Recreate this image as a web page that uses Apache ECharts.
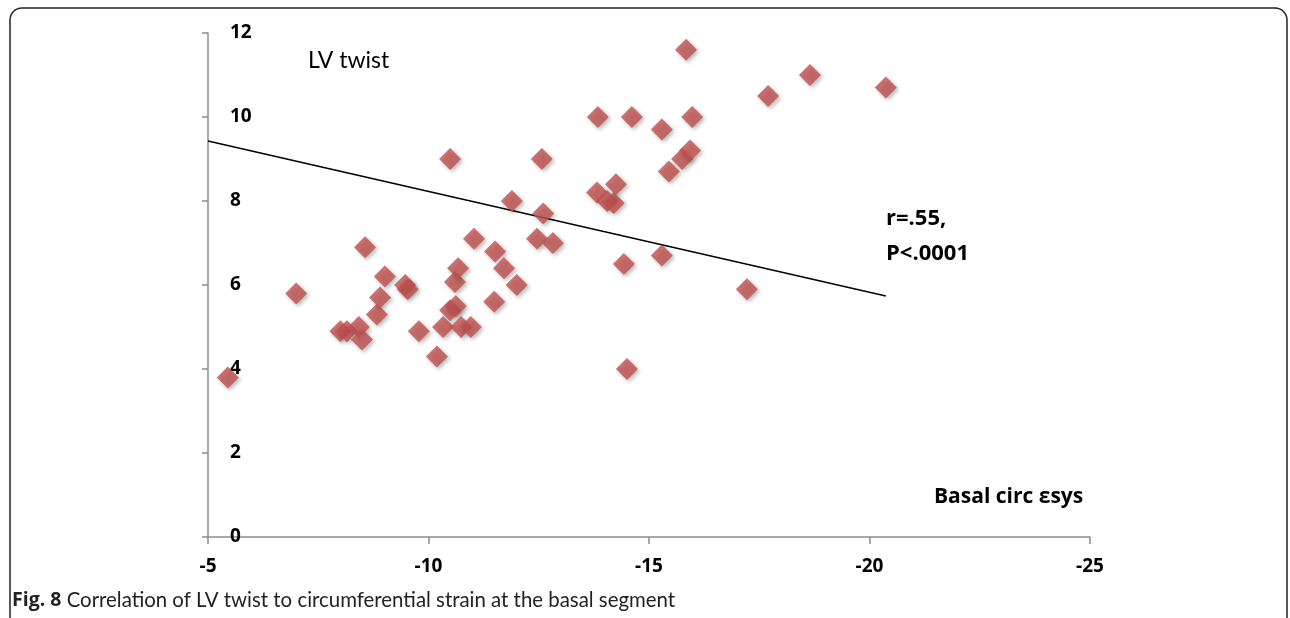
<!DOCTYPE html>
<html><head><meta charset="utf-8">
<script src="https://cdn.jsdelivr.net/npm/echarts@6/dist/echarts.min.js"></script>
<style>html,body{margin:0;padding:0;background:#fff}#c{width:1290px;height:618px}</style>
</head><body><div id="c"></div>
<script>
const xTicks = [-5, -10, -15, -20, -25];
const yTicks = [0, 2, 4, 6, 8, 10, 12];
const strainX = [-5.45, -7.0, -8.0, -8.15, -8.42, -8.49, -8.56, -8.83, -8.9, -9.01, -9.47, -9.53, -9.78, -10.19, -10.33, -10.49, -10.49, -10.6, -10.62, -10.67, -10.74, -10.96, -11.03, -11.49, -11.51, -11.71, -11.89, -12.0, -12.46, -12.57, -12.6, -12.82, -13.84, -13.82, -14.05, -14.2, -14.25, -14.43, -14.5, -14.61, -15.29, -15.29, -15.45, -15.75, -15.84, -15.93, -15.98, -17.22, -17.7, -18.65, -20.37];
const twistY  = [3.8, 5.8, 4.9, 4.9, 5.0, 4.7, 6.9, 5.3, 5.7, 6.2, 6.0, 5.9, 4.9, 4.3, 5.0, 9.0, 5.4, 6.07, 5.5, 6.4, 5.0, 5.0, 7.1, 5.6, 6.8, 6.4, 8.0, 6.0, 7.1, 9.0, 7.7, 7.0, 10.0, 8.2, 8.0, 7.95, 8.4, 6.5, 4.0, 10.0, 9.7, 6.7, 8.7, 9.0, 11.6, 9.2, 10.0, 5.9, 10.5, 11.0, 10.7];
const trendX = [-5, -20.37];
const trendY = [9.43, 5.74];
const yTitle = 'LV twist';
const xTitle = 'Basal circ εsys';
const stats = ['r=.55,', 'P<.0001'];

const pts = strainX.map((x, i) => [x, twistY[i]]);
const trend = trendX.map((x, i) => [x, trendY[i]]);
const reg = 'Lato, "Open Sans", sans-serif';
const bold = '"Open Sans", Lato, sans-serif';

const chart = echarts.init(document.getElementById('c'));
chart.setOption({
  animation: false,
  backgroundColor: '#fff',
  grid: { left: 208, right: 200, top: 33, bottom: 81 },
  xAxis: {
    type: 'value', inverse: true, min: -25, max: -5, interval: 5,
    axisLine: { show: true, lineStyle: { color: '#8c8c8c', width: 1.5 } },
    axisTick: { show: true, length: 7, lineStyle: { color: '#8c8c8c', width: 1.5 } },
    axisLabel: { color: '#000', fontWeight: 'bold', fontSize: 19, fontFamily: bold, margin: 20,
      formatter: v => xTicks.includes(v) ? String(v) : '' },
    splitLine: { show: false }
  },
  yAxis: {
    type: 'value', min: 0, max: 12, interval: 2,
    axisLine: { show: true, onZero: false, lineStyle: { color: '#8c8c8c', width: 1.5 } },
    axisTick: { show: true, length: 6, lineStyle: { color: '#8c8c8c', width: 1.5 } },
    axisLabel: { inside: true, color: '#000', fontWeight: 'bold', fontSize: 19, fontFamily: bold, margin: 22,
      formatter: v => yTicks.includes(v) ? String(v) : '' },
    splitLine: { show: false }
  },
  series: [
    {
      type: 'line', data: trend, showSymbol: false, symbol: 'none', z: 1,
      lineStyle: { color: '#000', width: 1.5 }
    },
    {
      type: 'scatter', data: pts, symbol: 'diamond', symbolSize: 22, z: 3,
      itemStyle: { color: '#c0504d', shadowBlur: 4, shadowOffsetX: 2, shadowOffsetY: 2, shadowColor: 'rgba(0,0,0,0.35)' }
    }
  ],
  graphic: [
    { type: 'rect', z: -1, shape: { x: 10, y: 8, width: 1277, height: 640, r: 12 },
      style: { fill: 'none', stroke: '#222', lineWidth: 1.5 } },
    { type: 'text', x: 308, y: 61, style: { text: yTitle, font: '23px ' + reg, fill: '#000', verticalAlign: 'middle' } },
    { type: 'text', x: 886, y: 219, style: { text: stats[0], font: 'bold 22px ' + bold, fill: '#000', verticalAlign: 'middle' } },
    { type: 'text', x: 886, y: 254, style: { text: stats[1], font: 'bold 22px ' + bold, fill: '#000', verticalAlign: 'middle' } },
    { type: 'text', x: 934, y: 497, style: { text: xTitle, font: 'bold 21px ' + bold, fill: '#000', verticalAlign: 'middle' } },
    { type: 'text', x: 12, y: 600, style: {
      text: '{b|Fig. 8} Correlation of LV twist to circumferential strain at the basal segment',
      font: '20.4px ' + reg, fill: '#222', verticalAlign: 'middle',
      rich: { b: { fontWeight: 'bold', fontSize: 19.5, fontFamily: bold, fill: '#222' } } } }
  ]
});
</script>
</body></html>
